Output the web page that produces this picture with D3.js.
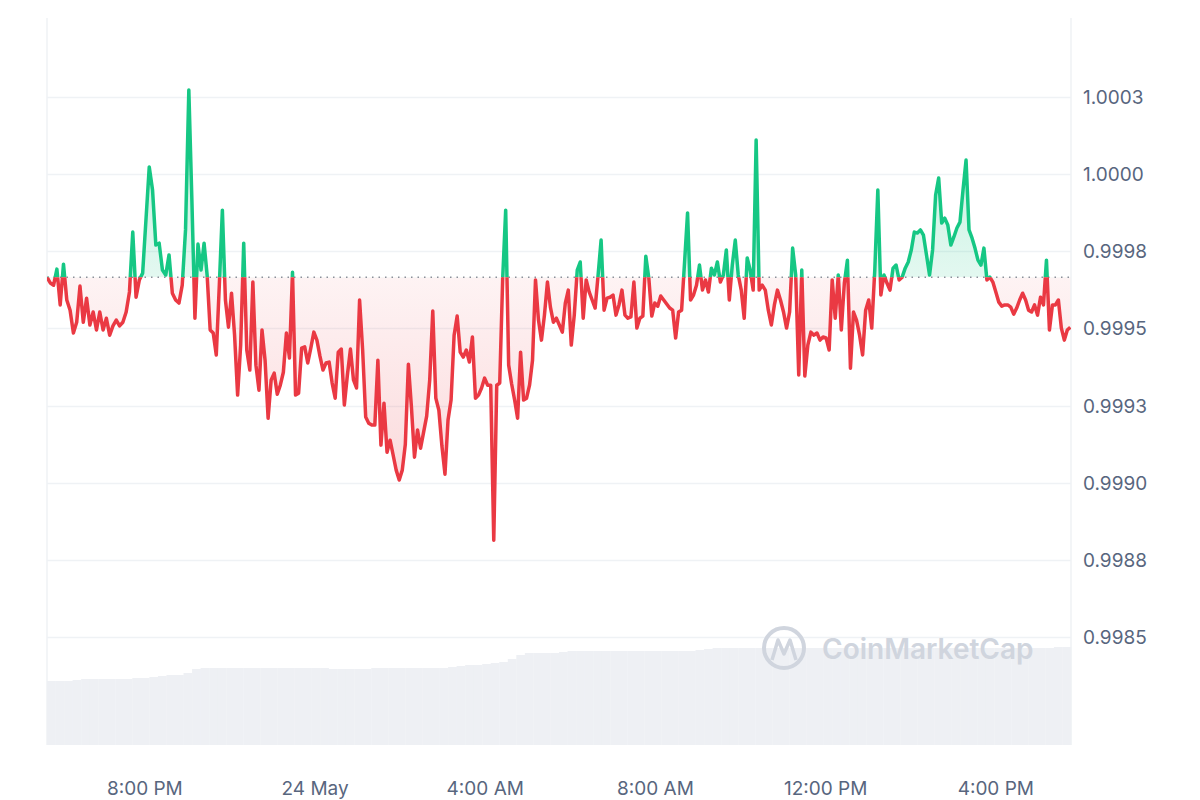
<!DOCTYPE html>
<html>
<head>
<meta charset="utf-8">
<script src="https://cdn.jsdelivr.net/npm/d3@7"></script>
<style>
  body { margin: 0; background: #fff; font-family: Inter, "Noto Sans", sans-serif; }
</style>
</head>
<body>
<div id="chart"></div>
<script>
// Price samples (USD)
const prices = [
  0.999666, 0.999647, 0.999640, 0.999692, 0.999576, 0.999708, 0.999592, 0.999559, 0.999485, 0.999520,
  0.999637, 0.999520, 0.999598, 0.999511, 0.999553, 0.999495, 0.999553, 0.999495, 0.999533, 0.999478,
  0.999508, 0.999527, 0.999508, 0.999520, 0.999553, 0.999618, 0.999812, 0.999601, 0.999657, 0.999679,
  0.999851, 1.000023, 0.999948, 0.999770, 0.999776, 0.999689, 0.999673, 0.999738, 0.999614, 0.999592,
  0.999582, 0.999640, 0.999819, 1.000272, 0.999916, 0.999533, 0.999773, 0.999689, 0.999776, 0.999673,
  0.999495, 0.999485, 0.999414, 0.999640, 0.999883, 0.999592, 0.999504, 0.999614, 0.999478, 0.999284,
  0.999446, 0.999776, 0.999430, 0.999365, 0.999650, 0.999381, 0.999300, 0.999495, 0.999397, 0.999209,
  0.999333, 0.999355, 0.999287, 0.999316, 0.999358, 0.999485, 0.999404, 0.999682, 0.999284, 0.999290,
  0.999436, 0.999440, 0.999388, 0.999436, 0.999488, 0.999462, 0.999410, 0.999365, 0.999388, 0.999391,
  0.999323, 0.999274, 0.999423, 0.999433, 0.999252, 0.999349, 0.999433, 0.999333, 0.999307, 0.999592,
  0.999430, 0.999213, 0.999193, 0.999187, 0.999187, 0.999397, 0.999122, 0.999258, 0.999099, 0.999138,
  0.999090, 0.999041, 0.999009, 0.999041, 0.999125, 0.999384, 0.999245, 0.999083, 0.999171, 0.999112,
  0.999164, 0.999216, 0.999333, 0.999556, 0.999274, 0.999235, 0.999119, 0.999028, 0.999203, 0.999268,
  0.999478, 0.999540, 0.999423, 0.999407, 0.999430, 0.999391, 0.999472, 0.999274, 0.999284, 0.999307,
  0.999339, 0.999316, 0.999316, 0.998814, 0.999316, 0.999323, 0.999663, 0.999883, 0.999381, 0.999320,
  0.999268, 0.999209, 0.999423, 0.999268, 0.999274, 0.999316, 0.999397, 0.999657, 0.999527, 0.999462,
  0.999543, 0.999650, 0.999569, 0.999520, 0.999533, 0.999511, 0.999488, 0.999582, 0.999624, 0.999446,
  0.999543, 0.999689, 0.999715, 0.999533, 0.999657, 0.999618, 0.999592, 0.999566, 0.999673, 0.999786,
  0.999559, 0.999598, 0.999601, 0.999608, 0.999543, 0.999576, 0.999624, 0.999543, 0.999533, 0.999537,
  0.999650, 0.999501, 0.999533, 0.999540, 0.999734, 0.999663, 0.999540, 0.999582, 0.999572, 0.999605,
  0.999592, 0.999579, 0.999566, 0.999559, 0.999469, 0.999553, 0.999559, 0.999715, 0.999874, 0.999592,
  0.999608, 0.999640, 0.999705, 0.999624, 0.999657, 0.999618, 0.999695, 0.999673, 0.999715, 0.999650,
  0.999673, 0.999754, 0.999592, 0.999705, 0.999786, 0.999673, 0.999624, 0.999533, 0.999728, 0.999689,
  0.999624, 1.000110, 0.999624, 0.999640, 0.999624, 0.999559, 0.999511, 0.999576, 0.999624, 0.999592,
  0.999553, 0.999501, 0.999553, 0.999760, 0.999673, 0.999349, 0.999689, 0.999346, 0.999446, 0.999488,
  0.999478, 0.999485, 0.999462, 0.999472, 0.999469, 0.999430, 0.999657, 0.999533, 0.999673, 0.999495,
  0.999647, 0.999721, 0.999371, 0.999553, 0.999527, 0.999478, 0.999414, 0.999559, 0.999592, 0.999501,
  0.999689, 0.999948, 0.999608, 0.999673, 0.999647, 0.999624, 0.999695, 0.999705, 0.999657, 0.999666,
  0.999695, 0.999715, 0.999754, 0.999812, 0.999809, 0.999819, 0.999802, 0.999738, 0.999673, 0.999754,
  0.999932, 0.999987, 0.999841, 0.999857, 0.999835, 0.999770, 0.999796, 0.999825, 0.999844, 0.999948,
  1.000045, 0.999819, 0.999793, 0.999760, 0.999721, 0.999705, 0.999760, 0.999657, 0.999666, 0.999650,
  0.999618, 0.999585, 0.999572, 0.999576, 0.999576, 0.999569, 0.999546, 0.999566, 0.999592, 0.999614,
  0.999592, 0.999559, 0.999553, 0.999576, 0.999543, 0.999601, 0.999576, 0.999721, 0.999495, 0.999576,
  0.999576, 0.999592, 0.999501, 0.999462, 0.999495, 0.999504
];

// Sample times of a few recognisable samples (index -> time); others fall between
const anchorIndex = [0, 43, 143, 231, 300, 335];
const anchorTimes = ['2024-05-23T17:42', '2024-05-23T21:02', '2024-05-24T04:12',
                     '2024-05-24T10:22', '2024-05-24T15:18', '2024-05-24T17:45'];

// Volume (millions), evenly spaced over the same window
const volumes = [
  64, 64, 64, 65, 66, 66, 66, 66, 66, 66, 67, 67, 68, 69, 70, 70, 72, 76, 77, 77,
  77, 77, 77, 77, 77, 77, 77, 77, 77, 77, 77, 77, 77, 76, 76, 76, 76, 76, 77, 77,
  77, 77, 77, 77, 77, 77, 77, 78, 79, 80, 80, 81, 82, 83, 86, 90, 92, 92, 92, 92,
  93, 94, 94, 94, 94, 94, 94, 94, 94, 94, 94, 94, 94, 94, 94, 94, 95, 96, 97, 97,
  97, 97, 97, 97, 97, 97, 97, 97, 97, 97, 97, 97, 97, 97, 97, 97, 97, 97, 97, 97,
  97, 97, 97, 97, 97, 97, 97, 97, 97, 97, 97, 97, 97, 97, 97, 97, 97, 97, 98, 98
];

const yTicks = [0.9985, 0.99875, 0.999, 0.99925, 0.9995, 0.99975, 1.0, 1.00025];
const xTickTimes = ['2024-05-23T20:00', '2024-05-24T00:00', '2024-05-24T04:00',
                    '2024-05-24T08:00', '2024-05-24T12:00', '2024-05-24T16:00'];
const startTime = new Date('2024-05-23T17:42');
const endTime = new Date('2024-05-24T17:46');

const W = 1200, H = 800;
const plot = { left: 47, right: 1071, top: 18, bottom: 745 };
const green = '#16c784', red = '#ea3943';
const baseValue = prices[0];

const svg = d3.select('#chart').append('svg').attr('width', W).attr('height', H);
const defs = svg.append('defs');

const x = d3.scaleTime().domain([startTime, endTime]).range([plot.left, plot.right]);
// 0.00025 per 77.2px, 1.0000 at y=174
const y = d3.scaleLinear()
  .domain([1 - (640 - 174) * 0.00025 / 77.2, 1 + (174 - plot.top) * 0.00025 / 77.2])
  .range([640, plot.top]);

const indexToTime = d3.scaleLinear().domain(anchorIndex).range(anchorTimes.map(s => +new Date(s)));
const data = prices.map((p, i) => ({ t: new Date(indexToTime(i)), v: p }));

// grid
svg.append('g').selectAll('line').data(yTicks).join('line')
  .attr('x1', plot.left).attr('x2', plot.right)
  .attr('y1', d => Math.round(y(d)) + 0.5).attr('y2', d => Math.round(y(d)) + 0.5)
  .attr('stroke', '#eff2f5').attr('stroke-width', 1.5);
svg.append('line').attr('x1', plot.left).attr('x2', plot.left).attr('y1', plot.top).attr('y2', plot.bottom)
  .attr('stroke', '#eff2f5').attr('stroke-width', 1.5);
svg.append('line').attr('x1', plot.right).attr('x2', plot.right).attr('y1', plot.top).attr('y2', plot.bottom)
  .attr('stroke', '#eff2f5').attr('stroke-width', 1.5);

// volume bars
const vx = d3.scaleLinear().domain([0, volumes.length]).range([plot.left, plot.right]);
const vy = d3.scaleLinear().domain([0, 110]).range([plot.bottom, plot.bottom - 110]);
svg.append('g').selectAll('rect').data(volumes).join('rect')
  .attr('x', (d, i) => vx(i)).attr('width', vx(1) - vx(0) + 0.3)
  .attr('y', d => vy(d)).attr('height', d => plot.bottom - vy(d))
  .attr('fill', '#eef0f4');

// watermark
const wm = svg.append('g').attr('fill', 'none').attr('stroke', '#d0d5de');
wm.append('circle').attr('cx', 784).attr('cy', 648).attr('r', 20).attr('stroke-width', 4);
wm.append('path').attr('d', 'M772,660 L778,640 L784,654 L790,640 L796,660').attr('stroke-width', 3.5).attr('stroke-linejoin', 'round');
svg.append('text').attr('x', 822).attr('y', 659).text('CoinMarketCap')
  .attr('fill', '#d0d5de').style('font-size', '28px').style('font-weight', 600);

// gradients
const by = y(baseValue);
const gGreen = defs.append('linearGradient').attr('id', 'gGreen').attr('x1', 0).attr('x2', 0)
  .attr('gradientUnits', 'userSpaceOnUse').attr('y1', 90).attr('y2', by);
gGreen.append('stop').attr('offset', 0).attr('stop-color', green).attr('stop-opacity', 0.3);
gGreen.append('stop').attr('offset', 1).attr('stop-color', green).attr('stop-opacity', 0.12);
const gRed = defs.append('linearGradient').attr('id', 'gRed').attr('x1', 0).attr('x2', 0)
  .attr('gradientUnits', 'userSpaceOnUse').attr('y1', by).attr('y2', 540);
gRed.append('stop').attr('offset', 0).attr('stop-color', red).attr('stop-opacity', 0.06);
gRed.append('stop').attr('offset', 1).attr('stop-color', red).attr('stop-opacity', 0.22);

defs.append('clipPath').attr('id', 'above').append('rect')
  .attr('x', plot.left).attr('y', 0).attr('width', plot.right - plot.left).attr('height', by);
defs.append('clipPath').attr('id', 'below').append('rect')
  .attr('x', plot.left).attr('y', by).attr('width', plot.right - plot.left).attr('height', H - by);

const area = d3.area().x(d => x(d.t)).y0(by).y1(d => y(d.v));
const line = d3.line().x(d => x(d.t)).y(d => y(d.v));

svg.append('path').datum(data).attr('d', area).attr('fill', 'url(#gGreen)').attr('clip-path', 'url(#above)');
svg.append('path').datum(data).attr('d', area).attr('fill', 'url(#gRed)').attr('clip-path', 'url(#below)');

// baseline
svg.append('line').attr('x1', plot.left).attr('x2', plot.right).attr('y1', by).attr('y2', by)
  .attr('stroke', '#8a8f99').attr('stroke-width', 1.5).attr('stroke-dasharray', '1.5,5');

svg.append('path').datum(data).attr('d', line).attr('fill', 'none').attr('stroke', green)
  .attr('stroke-width', 3.5).attr('stroke-linejoin', 'round').attr('clip-path', 'url(#above)');
svg.append('path').datum(data).attr('d', line).attr('fill', 'none').attr('stroke', red)
  .attr('stroke-width', 3.5).attr('stroke-linejoin', 'round').attr('clip-path', 'url(#below)');

// y axis labels (right)
svg.append('g').selectAll('text').data(yTicks).join('text')
  .attr('x', 1083).attr('y', d => y(d) + 7)
  .text(d => d3.format('.4f')(Math.round(d * 10000 + 1e-9) / 10000))
  .attr('fill', '#58667e').style('font-size', '19px');

// x axis labels
const fmt = d => d.getHours() === 0 ? d3.timeFormat('%-d %B')(d) : d3.timeFormat('%-I:%M %p')(d);
svg.append('g').selectAll('text').data(xTickTimes.map(s => new Date(s))).join('text')
  .attr('x', d => x(d)).attr('y', 795).attr('text-anchor', 'middle')
  .text(fmt).attr('fill', '#58667e').style('font-size', '19px');
</script>
</body>
</html>
